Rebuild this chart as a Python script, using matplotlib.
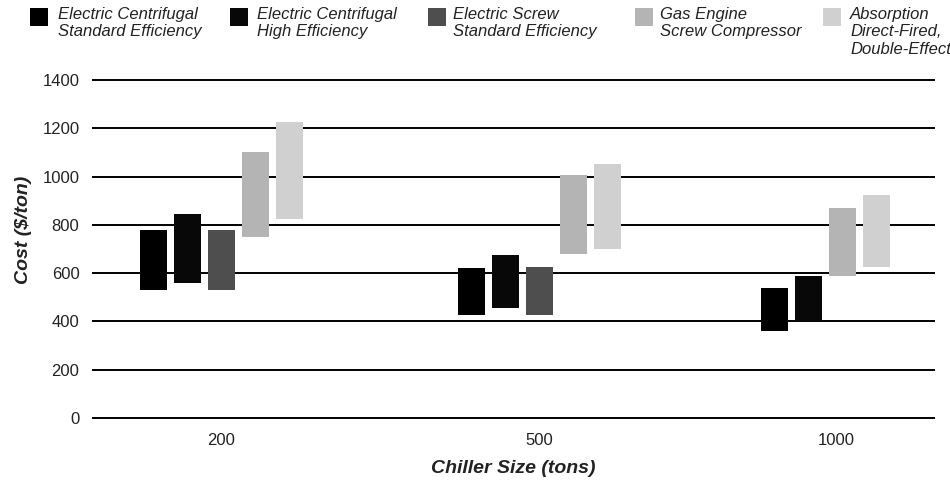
import matplotlib
matplotlib.use("Agg")
import matplotlib.pyplot as plt
from matplotlib.patches import Rectangle
import numpy as np

plt.rcParams['font.family'] = ['Liberation Sans Narrow', 'Liberation Sans', 'DejaVu Sans']

# ---- data ----
categories = ['200', '500', '1000']
series_names = ['Electric Centrifugal\nStandard Efficiency',
                'Electric Centrifugal\nHigh Efficiency',
                'Electric Screw\nStandard Efficiency',
                'Gas Engine\nScrew Compressor',
                'Absorption\nDirect-Fired,\nDouble-Effect']
ec_std_low = [530, 425, 360]
ec_std_high = [780, 620, 540]
ec_high_low = [560, 455, 400]
ec_high_high = [845, 675, 590]
screw_low = [530, 425, None]
screw_high = [780, 625, None]
gas_low = [750, 680, 590]
gas_high = [1100, 1005, 870]
abs_low = [825, 700, 625]
abs_high = [1225, 1050, 925]
y_ticks = [0, 200, 400, 600, 800, 1000, 1200, 1400]

lows = [ec_std_low, ec_high_low, screw_low, gas_low, abs_low]
highs = [ec_std_high, ec_high_high, screw_high, gas_high, abs_high]
colors = ['#000000', '#080808', '#4e4e4e', '#b4b4b4', '#d0d0d0']

W, H = 950, 482
fig = plt.figure(figsize=(W / 100, H / 100), dpi=100)
ax = fig.add_axes([92 / W, 1 - 419 / H, (935 - 92) / W, (419 - 79) / H])

group_x = [0.0, 1.0, 1.9]
tick_x = [0.0, 1.0, 1.935]
spacing = 0.1069
width = 0.0849

for g, gx in enumerate(group_x):
    present = [s for s in range(len(lows)) if lows[s][g] is not None]
    n = len(present)
    for k, s in enumerate(present):
        x = gx + (k - (n - 1) / 2) * spacing
        ax.bar(x, highs[s][g] - lows[s][g], bottom=lows[s][g], width=width,
               color=colors[s], zorder=3, linewidth=0)

ax.set_xlim(-0.406, 2.245)
ax.set_ylim(-4, 1404)
ax.set_yticks(y_ticks)
ax.set_yticklabels([str(v) for v in y_ticks], fontsize=12, color='#222222')
ax.set_xticks(tick_x)
ax.set_xticklabels(categories, fontsize=12, color='#222222')
ax.tick_params(axis='both', length=0)
ax.tick_params(axis='y', pad=9)
ax.tick_params(axis='x', pad=10)
ax.yaxis.grid(True, color='black', linewidth=1.4, zorder=1)
ax.set_axisbelow(True)
for sp in ax.spines.values():
    sp.set_visible(False)

ax.set_ylabel('Cost ($/ton)', fontsize=14, fontstyle='italic', fontweight='bold',
              color='#222222')
ax.yaxis.set_label_coords(-0.071, 0.555)
ax.set_xlabel('Chiller Size (tons)', fontsize=14, fontstyle='italic',
              fontweight='bold', color='#222222', labelpad=9)

# ---- legend (manual) ----
patch_x = [30, 230, 428, 635, 823]
text_x = [58, 257, 453, 660, 850]
for s in range(len(series_names)):
    fig.add_artist(Rectangle((patch_x[s] / W, 1 - 26 / H), 18 / W, 18 / H,
                             transform=fig.transFigure, color=colors[s], lw=0))
    fig.text(text_x[s] / W, 1 - 7 / H, series_names[s], fontsize=12,
             fontstyle='italic', color='#222222', va='top', ha='left',
             linespacing=1.2)

fig.savefig('out.png', dpi=100)
